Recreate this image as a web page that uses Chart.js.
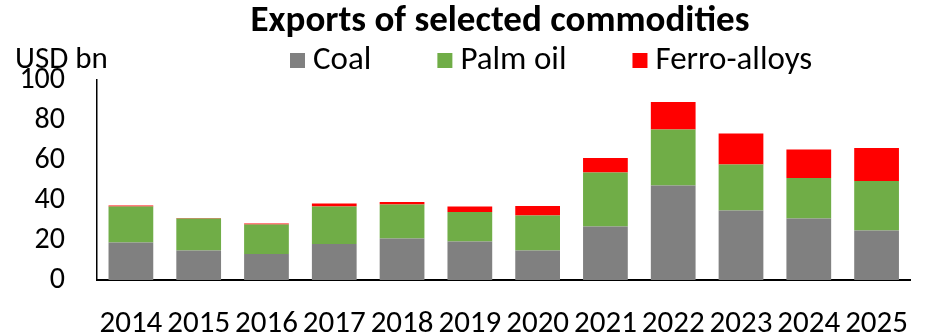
<!DOCTYPE html>
<html>
<head>
<meta charset="utf-8">
<script src="https://cdn.jsdelivr.net/npm/chart.js@4.4.1/dist/chart.umd.min.js"></script>
<style>
    body { margin: 0; background: #fff; }
    #wrap { width: 934px; height: 335px; position: relative; }
</style>
</head>
<body>
<div id="wrap"><canvas id="exportsChart"></canvas></div>
<script>
const years = ['2014', '2015', '2016', '2017', '2018', '2019', '2020', '2021', '2022', '2023', '2024', '2025'];
const coal = [18.8, 14.8, 13.0, 18.0, 20.8, 19.2, 14.7, 26.8, 47.3, 34.8, 30.8, 24.7];
const palmOil = [17.9, 15.9, 14.7, 18.7, 16.9, 14.8, 17.6, 27.0, 28.0, 23.0, 20.2, 24.8];
const ferroAlloys = [0.5, 0.3, 0.5, 1.5, 1.3, 2.7, 4.7, 7.2, 13.7, 15.4, 14.2, 16.5];
const yTicks = [0, 20, 40, 60, 80, 100];

const FONT = 'Carlito, "Liberation Sans Narrow", "DejaVu Sans Condensed", sans-serif';

// title, legend and unit label drawn by hand so they sit where the original has them
const headerPlugin = {
    id: 'header',
    afterDraw(chart) {
        const ctx = chart.ctx;
        ctx.save();
        ctx.fillStyle = '#000';
        ctx.textBaseline = 'middle';

        ctx.font = 'bold 37px ' + FONT;
        ctx.textAlign = 'center';
        ctx.fillText('Exports of selected commodities', 500, 22);

        ctx.font = '31px ' + FONT;
        ctx.textAlign = 'left';
        ctx.fillText('USD bn', 15, 60);

        ctx.font = '33px ' + FONT;
        let x = 290;
        chart.data.datasets.forEach(ds => {
            ctx.fillStyle = ds.backgroundColor;
            ctx.fillRect(x, 53, 15, 15);
            ctx.fillStyle = '#000';
            ctx.fillText(ds.label, x + 23, 61);
            x += 23 + ctx.measureText(ds.label).width + 66;
        });
        ctx.restore();
    }
};

new Chart(document.getElementById('exportsChart'), {
    type: 'bar',
    data: {
        labels: years,
        datasets: [
            { label: 'Coal', data: coal, backgroundColor: '#808080' },
            { label: 'Palm oil', data: palmOil, backgroundColor: '#70AD47' },
            { label: 'Ferro-alloys', data: ferroAlloys, backgroundColor: '#FF0000' }
        ]
    },
    options: {
        responsive: true,
        maintainAspectRatio: false,
        animation: false,
        layout: { padding: { top: 80, left: 0, right: 0, bottom: 0 } },
        datasets: { bar: { categoryPercentage: 1, barPercentage: 0.66, borderWidth: 0 } },
        plugins: {
            legend: { display: false },
            title: { display: false },
            tooltip: { enabled: false }
        },
        scales: {
            x: {
                stacked: true,
                grid: { display: false, drawTicks: false },
                border: { display: true, color: '#000', width: 2 },
                ticks: { color: '#000', font: { family: FONT, size: 31 }, padding: 26, maxRotation: 0, autoSkip: false },
                afterFit(scale) { scale.height = 55; }
            },
            y: {
                stacked: true,
                min: 0,
                max: 100,
                afterBuildTicks(scale) { scale.ticks = yTicks.map(v => ({ value: v })); },
                grid: { display: false, drawTicks: false },
                border: { display: true, color: '#000', width: 1.5 },
                ticks: { color: '#000', font: { family: FONT, size: 30 }, padding: 32 },
                afterFit(scale) { scale.width = 97; }
            }
        }
    },
    plugins: [headerPlugin]
});
</script>
</body>
</html>
